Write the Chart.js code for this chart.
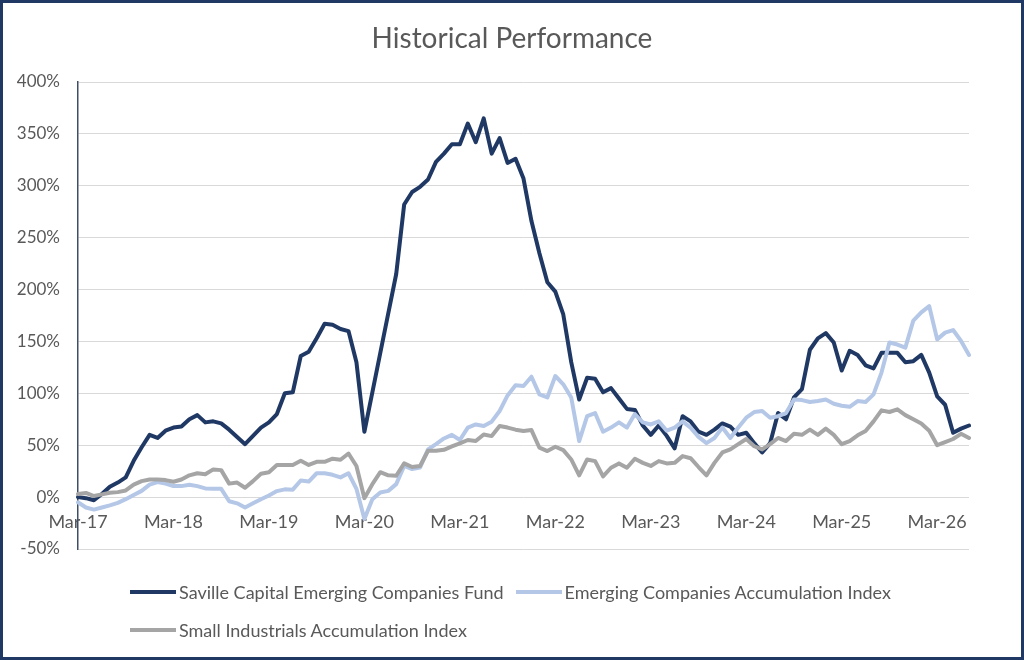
<!DOCTYPE html>
<html><head><meta charset="utf-8">
<script src="https://cdn.jsdelivr.net/npm/chart.js@4.4.1/dist/chart.umd.min.js"></script>
<style>
html,body{margin:0;padding:0;background:#fff;}
#wrap{position:relative;width:1024px;height:660px;box-sizing:border-box;border:3px solid #1f3864;background:#fff;overflow:hidden;}
#c{position:absolute;left:0;top:0;}
#legend{position:absolute;left:127px;top:577px;font-family:Lato, sans-serif;font-size:18px;color:#595959;}
.row{display:flex;align-items:center;height:24px;margin-bottom:14px;white-space:nowrap;}
.item{display:flex;align-items:center;margin-right:12px;}
.swatch{width:46px;height:4px;margin-right:3px;}
</style></head><body>
<div id="wrap"><canvas id="c" width="1018" height="654"></canvas><div id="legend"></div></div>
<script>
const titleText = 'Historical Performance';
const seriesNames = ['Saville Capital Emerging Companies Fund','Emerging Companies Accumulation Index','Small Industrials Accumulation Index'];
const colors = ['#1f3864','#b4c7e7','#a5a5a5'];
const tickLabels = ['Mar-17','Mar-18','Mar-19','Mar-20','Mar-21','Mar-22','Mar-23','Mar-24','Mar-25','Mar-26'];
const yTicks = [-50,0,50,100,150,200,250,300,350,400];
const categories = [
'Mar-17','Apr-17','May-17','Jun-17','Jul-17','Aug-17','Sep-17','Oct-17','Nov-17','Dec-17',
'Jan-18','Feb-18','Mar-18','Apr-18','May-18','Jun-18','Jul-18','Aug-18','Sep-18','Oct-18','Nov-18','Dec-18',
'Jan-19','Feb-19','Mar-19','Apr-19','May-19','Jun-19','Jul-19','Aug-19','Sep-19','Oct-19','Nov-19','Dec-19',
'Jan-20','Feb-20','Mar-20','Apr-20','May-20','Jun-20','Jul-20','Aug-20','Sep-20','Oct-20','Nov-20','Dec-20',
'Jan-21','Feb-21','Mar-21','Apr-21','May-21','Jun-21','Jul-21','Aug-21','Sep-21','Oct-21','Nov-21','Dec-21',
'Jan-22','Feb-22','Mar-22','Apr-22','May-22','Jun-22','Jul-22','Aug-22','Sep-22','Oct-22','Nov-22','Dec-22',
'Jan-23','Feb-23','Mar-23','Apr-23','May-23','Jun-23','Jul-23','Aug-23','Sep-23','Oct-23','Nov-23','Dec-23',
'Jan-24','Feb-24','Mar-24','Apr-24','May-24','Jun-24','Jul-24','Aug-24','Sep-24','Oct-24','Nov-24','Dec-24',
'Jan-25','Feb-25','Mar-25','Apr-25','May-25','Jun-25','Jul-25','Aug-25','Sep-25','Oct-25','Nov-25','Dec-25',
'Jan-26','Feb-26','Mar-26','Apr-26','May-26','Jun-26','Jul-26'];
const saville = [
0,-1,-3,3,10,14,19,35,48,60,
57,64,67,68,75,79,72,73,71,65,58,51,
59,67,72,80,100,101,136,140,153,167,166,162,
160,130,63,101,139,177,215,282,294,299,306,323,
331,340,340,360,342,365,331,346,322,326,307,266,
235,207,198,176,130,94,115,114,101,105,95,85,
84,69,60,69,59,47,78,73,63,60,65,71,
68,60,62,52,43,52,81,75,96,104,142,153,
158,149,122,141,137,127,124,139,139,139,130,131,
137,120,97,89,62,66,69];
const emerging = [
-5,-10,-12,-10,-8,-5.5,-2,2,6,12,
14.5,13,10.6,10.6,12,10.6,8.4,8,8,-4,-6,-10,
-6,-2,1.6,5.8,7.5,7.2,16,15,23,23,21.5,19,
23,8,-21,-2,4.5,6,12.5,30,27,28.6,46,51,
56.5,60,55,67,70,68.5,72.7,83,98,107.7,107,116,
99,96,116.7,108.7,96,54,78,81,63,67,72,67,
80,72,70,73,64,67,73,67,58,52,57,67,
57,67,76.5,82,83,76.5,78,81,94,93.5,91.6,92.6,
94,90,88,87,92.6,91.6,99,120,149,147,144,170,
178,184,152,158.5,161,150.5,137];
const small = [
3,4,1,2.6,4.2,4.8,6.4,12,15.4,17,
17,16.4,14.8,17,21,23,22,26.7,26,13,14,9,
15.4,22.5,24,31,31,31,35,31,34,34,37,36,
42,30,-1,12.5,24,21,20.6,32.5,29,30,44.7,44.7,
45.6,48.8,51.7,55,54,60.4,58.8,68.5,67,65,63.7,64.6,
47.6,44.4,48.5,45.3,36.3,21,36.3,34.7,20,28.3,32.5,28.3,
37,33,30,34.7,32.5,33,39.5,37.5,29,21,33,43,
46,51,56,49,46,51,57,54,61,60,65,60,
66,60,51,54,59.5,63.7,73,83.6,82,84.6,79,75,
71,64,50,53,56,61,57];

const FONT = 'Lato, "Open Sans", sans-serif';
const series = [saville, emerging, small];
const datasets = series.map((d, i) => ({
  label: seriesNames[i], data: d,
  borderColor: colors[i], backgroundColor: colors[i],
  order: 3 - i
}));

new Chart(document.getElementById('c'), {
  type: 'line',
  data: { labels: categories, datasets: datasets },
  options: {
    responsive: false, animation: false,
    layout: { padding: { left: 13, right: 13, top: 0, bottom: 108 } },
    elements: {
      point: { radius: 0, hoverRadius: 0 },
      line: { borderWidth: 4, tension: 0, borderJoinStyle: 'round', borderCapStyle: 'round' }
    },
    plugins: {
      legend: { display: false },
      tooltip: { enabled: false },
      title: { display: true, text: titleText, color: '#595959',
        font: { family: FONT, size: 28, weight: 'normal' }, padding: { top: 19, bottom: 26.4 } }
    },
    scales: {
      x: {
        position: { y: 0 }, offset: false,
        grid: { display: false, drawTicks: false }, border: { display: false },
        ticks: { autoSkip: false, maxRotation: 0, minRotation: 0, padding: 14, color: '#595959',
          font: { family: FONT, size: 18 },
          callback: function (v) { const l = this.getLabelForValue(v); return tickLabels.includes(l) ? l : null; } }
      },
      y: {
        min: -50, max: 400,
        afterBuildTicks: s => { s.ticks = yTicks.map(v => ({ value: v })); },
        afterFit: s => { s.width = 62; },
        grid: { color: '#d9d9d9', lineWidth: 1, drawTicks: false },
        border: { display: true, color: '#3f4d68', width: 1.5 },
        ticks: { padding: 18, color: '#595959', font: { family: FONT, size: 17 }, callback: v => v + '%' }
      },
      yRightSpace: {
        position: 'right', min: -50, max: 400,
        afterFit: s => { s.width = 39; },
        grid: { display: false, drawTicks: false }, border: { display: false },
        ticks: { display: false }
      }
    }
  }
});

const legend = document.getElementById('legend');
const rows = [[0, 1], [2]];
rows.forEach(r => {
  const row = document.createElement('div'); row.className = 'row';
  r.forEach(i => {
    const it = document.createElement('div'); it.className = 'item';
    const sw = document.createElement('span'); sw.className = 'swatch'; sw.style.background = colors[i];
    const tx = document.createElement('span'); tx.textContent = seriesNames[i];
    it.appendChild(sw); it.appendChild(tx); row.appendChild(it);
  });
  legend.appendChild(row);
});
</script></body></html>
